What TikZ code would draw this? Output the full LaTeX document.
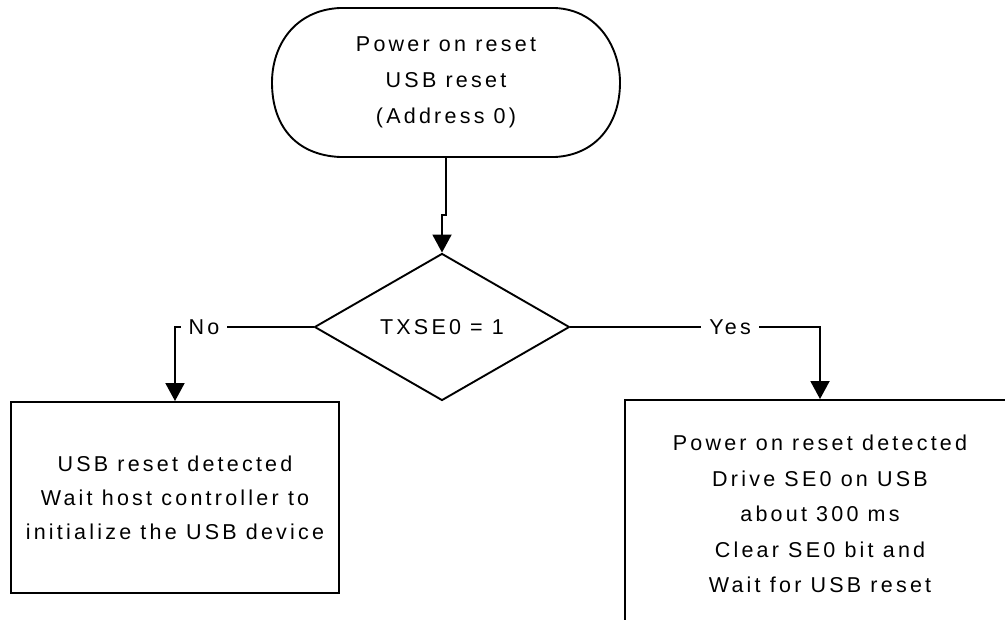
\documentclass[tikz,border=0pt]{standalone}
\usepackage{fontspec}
\setmainfont{Liberation Sans}[LetterSpace=15]
\usetikzlibrary{shapes.geometric,arrows.meta}
\begin{document}
\begin{tikzpicture}[x=1pt,y=1pt,
  every node/.style={font=\fontsize{21.5}{36}\selectfont, align=center, inner sep=0pt},
  flow/.style={line width=1.9pt},
  arr/.style={flow,-{Triangle[length=18pt,width=19pt]}},
  procbox/.style={draw, line width=1.9pt, rectangle},
  lbl/.style={fill=white, inner xsep=8pt, inner ysep=2pt}
]
\useasboundingbox (0,0) rectangle (1005,-620);
\clip (0,0) rectangle (1005,-620);
% terminator
\draw[flow] (340,-8) -- (555,-8)
  .. controls (600,-10) and (620,-50) .. (620,-82.5)
  .. controls (620,-125) and (595,-155) .. (555,-157)
  -- (340,-157)
  .. controls (295,-155) and (272,-125) .. (272,-82.5)
  .. controls (272,-45) and (295,-10) .. (340,-8) -- cycle;
\node (start) [minimum width=348pt, minimum height=149pt] at (446,-82.5)
  {Power on reset\\USB reset\\(Address 0)};
% decision
\node (dec) [draw, diamond, aspect=2, line width=1.9pt, minimum width=255pt, minimum height=147pt] at (442,-327) {TXSE0 = 1};
% boxes
\node (nobox) [procbox, minimum width=328pt, minimum height=191pt, font=\fontsize{21.5}{34}\selectfont] at (175,-497.5)
  {USB reset detected\\Wait host controller to\\initialize the USB device};
\node (yesbox) [procbox, minimum width=390pt, minimum height=228pt, font=\fontsize{21.5}{35.5}\selectfont] at (820,-514)
  {Power on reset detected\\Drive SE0 on USB\\about 300 ms\\Clear SE0 bit and\\Wait for USB reset};
% connectors
\draw[arr] (start.south) -- ++(0,-58) -| (dec.north);
\draw[arr] (dec.west) -| node[lbl, pos=0.395] {No} (nobox.north);
\draw[arr] (dec.east) -| node[lbl, pos=0.32] {Yes} (yesbox.north);
\end{tikzpicture}
\end{document}
